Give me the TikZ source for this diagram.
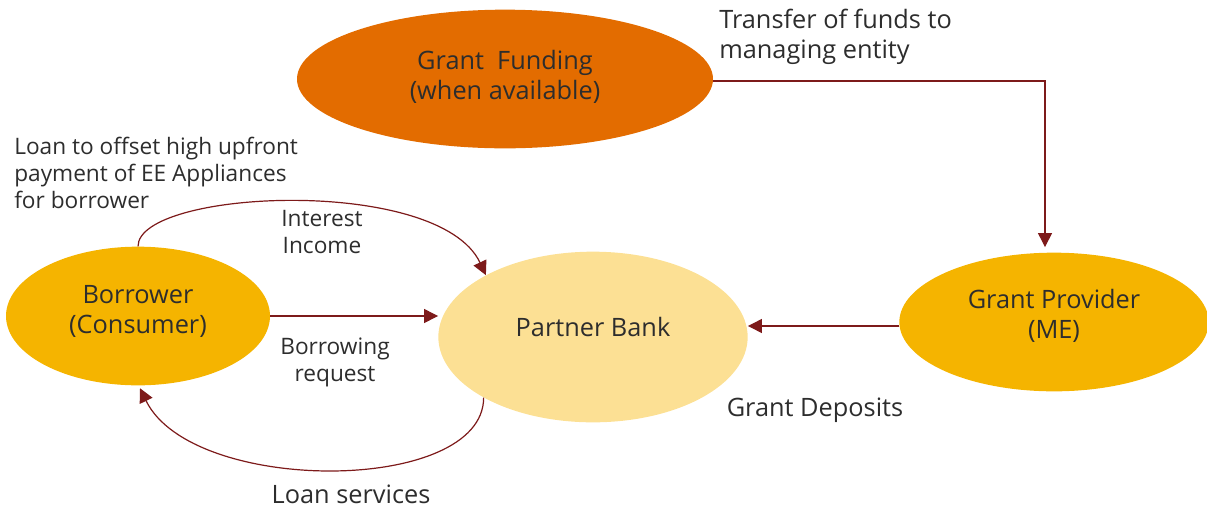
\documentclass[tikz,border=0pt]{standalone}
\usepackage{fontspec}
\setmainfont{Open Sans}
\usetikzlibrary{shapes.geometric,arrows.meta}
\definecolor{gfo}{RGB}{227,108,0}
\definecolor{gold}{RGB}{245,180,0}
\definecolor{pale}{RGB}{252,224,148}
\definecolor{linec}{RGB}{125,26,26}
\definecolor{txt}{RGB}{45,45,45}
\tikzset{
  blob/.style={ellipse, inner sep=0pt, draw=none},
  big/.style={inner sep=0pt, text=txt, align=center, font=\fontsize{19}{22.5}\selectfont},
  small/.style={inner sep=0pt, text=txt, font=\fontsize{17}{20.3}\selectfont},
  arr/.style={draw=linec, line width=0.9pt, -{Triangle[length=10.5pt,width=10.5pt]}}
}
\begin{document}
\begin{tikzpicture}[x=0.75pt,y=-0.75pt]
\useasboundingbox (0,0) rectangle (1207,508);
\node[blob, fill=gfo, minimum width=312pt, minimum height=104pt] (gf) at (505,79) {};
\node[blob, fill=gold, minimum width=198pt, minimum height=104pt] (bo) at (138,316) {};
\node[blob, fill=pale, minimum width=232pt, minimum height=128pt] (pb) at (593,337) {};
\node[blob, fill=gold, minimum width=232pt, minimum height=104pt] (gp) at (1054,322) {};

\node[big] (gft) at (505,76.5) {Grant\ \ Funding\\(when available)};
\node[big] (bot) at (138,311) {Borrower\\(Consumer)};
\node[big] (pbt) at (593,327) {Partner Bank};
\node[big] (gpt) at (1054,316) {Grant Provider\\(ME)};

\node[big, anchor=west, align=left] (t1) at (719,36.5) {Transfer of funds to\\managing entity};
\node[small, anchor=west, align=left] (t2) at (14,173) {Loan to offset high upfront\\payment of EE Appliances\\for borrower};
\node[small, align=center] (t3) at (322,232) {Interest\\Income};
\node[small, align=center] (t4) at (335,362) {Borrowing\\request};
\node[big] (t5) at (815,410.5) {Grant Deposits};
\node[big] (t6) at (351,494) {Loan services};

\draw[arr] ([yshift=-1.5pt]gf.east) -| ([xshift=-6.75pt,yshift=4pt]gp.north);
\draw[arr] ([yshift=-3pt]gp.west) -- ([yshift=-3pt]gp.west -| pb.east);
\draw[arr] (bo.east) -- (bo.east -| pb.west);
\draw[arr] (bo.north) .. controls +(0,-57) and +(-47,-100) .. (pb.150);
\draw[arr] (pb.209) .. controls +(0,97) and +(52,107) .. ([xshift=1.5pt,yshift=-2pt]bo.south);
\end{tikzpicture}
\end{document}
